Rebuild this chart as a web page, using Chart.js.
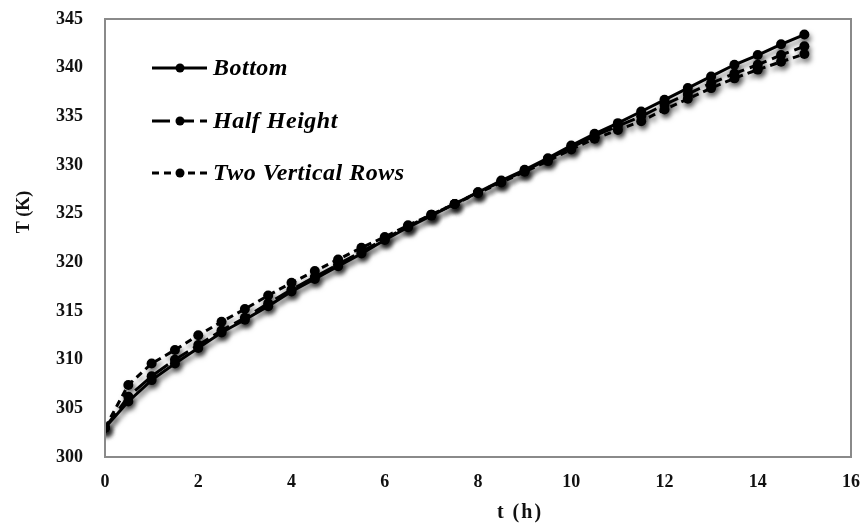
<!DOCTYPE html>
<html lang="en">
<head>
    <meta charset="UTF-8">
    <title>Temperature vs time</title>
    <script src="https://cdn.jsdelivr.net/npm/chart.js"></script>
    <style>
        body {
            margin: 0;
            background: #ffffff;
        }
        #wrap {
            width: 867px;
            height: 525px;
        }
    </style>
</head>
<body>
    <div id="wrap">
        <canvas id="tempChart" width="867" height="525"></canvas>
    </div>
    <script>
        // time in hours, sampled every half hour
        const hours = [0, 0.5, 1, 1.5, 2, 2.5, 3, 3.5, 4, 4.5, 5, 5.5, 6, 6.5, 7, 7.5,
                       8, 8.5, 9, 9.5, 10, 10.5, 11, 11.5, 12, 12.5, 13, 13.5, 14, 14.5, 15];

        // temperature (K) for each heater placement
        const bottomT = [303.0, 305.7, 307.9, 309.6, 311.2, 312.8, 314.1, 315.5, 317.0, 318.3,
                         319.6, 320.9, 322.3, 323.6, 324.8, 326.0, 327.2, 328.4, 329.5, 330.7,
                         332.0, 333.2, 334.3, 335.5, 336.7, 337.9, 339.1, 340.3, 341.3, 342.4, 343.4];
        const halfHeightT = [303.0, 306.2, 308.3, 310.0, 311.5, 313.0, 314.3, 315.8, 317.2, 318.5,
                             319.8, 321.1, 322.4, 323.7, 324.9, 326.0, 327.2, 328.3, 329.4, 330.6,
                             331.8, 333.0, 334.0, 335.0, 336.2, 337.3, 338.4, 339.4, 340.3, 341.3, 342.2];
        const twoRowsT = [303.0, 307.4, 309.6, 311.0, 312.5, 313.9, 315.2, 316.6, 317.9, 319.1,
                          320.3, 321.5, 322.6, 323.8, 324.9, 326.0, 327.1, 328.2, 329.3, 330.4,
                          331.6, 332.7, 333.6, 334.5, 335.7, 336.8, 337.9, 338.9, 339.8, 340.6, 341.4];

        const seriesNames = ['Bottom', 'Half Height', 'Two Vertical Rows'];
        const xTicks = [0, 2, 4, 6, 8, 10, 12, 14, 16];
        const yTicks = [300, 305, 310, 315, 320, 325, 330, 335, 340, 345];
        const xTitle = 't (h)';
        const yTitle = 'T (K)';

        const toPoints = vals => hours.map((h, i) => ({ x: h, y: vals[i] }));

        const serif = '"Liberation Serif", "Times New Roman", serif';

        function seriesStyle(label, vals, dash) {
            return {
                label: label,
                data: toPoints(vals),
                borderColor: '#000',
                backgroundColor: '#000',
                borderWidth: 3,
                borderDash: dash,
                pointRadius: 5,
                pointHoverRadius: 5,
                pointBorderWidth: 0,
                tension: 0,
                fill: false
            };
        }

        // drop shadow under the lines
        const shadowPlugin = {
            id: 'lineShadow',
            beforeDatasetsDraw(chart) {
                const ctx = chart.ctx;
                ctx.save();
                ctx.shadowColor = 'rgba(0,0,0,0.5)';
                ctx.shadowBlur = 5;
                ctx.shadowOffsetX = 2;
                ctx.shadowOffsetY = 4;
            },
            afterDatasetsDraw(chart) {
                chart.ctx.restore();
            }
        };

        // grey box round the plot area, plus the two axis titles
        const framePlugin = {
            id: 'frame',
            afterDraw(chart) {
                const { ctx, chartArea: a } = chart;
                ctx.save();
                ctx.strokeStyle = '#8a8a8a';
                ctx.lineWidth = 2;
                ctx.strokeRect(a.left, a.top, a.right - a.left, a.bottom - a.top);

                ctx.fillStyle = '#111';
                ctx.textAlign = 'center';
                ctx.textBaseline = 'middle';
                ctx.font = 'bold 20px ' + serif;
                ctx.letterSpacing = '2px';
                ctx.fillText(xTitle, 520, 513);

                ctx.letterSpacing = '0px';
                ctx.font = 'bold 18px ' + serif;
                ctx.translate(24, 212);
                ctx.rotate(-Math.PI / 2);
                ctx.fillText(yTitle, 0, 0);
                ctx.restore();
            }
        };

        // legend drawn inside the plot, top-left
        const legendPlugin = {
            id: 'insideLegend',
            afterDraw(chart) {
                const ctx = chart.ctx;
                const rows = [68, 121, 173];
                ctx.save();
                chart.data.datasets.forEach((ds, i) => {
                    const y = rows[i];
                    ctx.strokeStyle = '#000';
                    ctx.lineWidth = 3;
                    ctx.setLineDash(ds.borderDash);
                    ctx.beginPath();
                    ctx.moveTo(152, y);
                    ctx.lineTo(207, y);
                    ctx.stroke();
                    ctx.setLineDash([]);
                    ctx.fillStyle = '#000';
                    ctx.beginPath();
                    ctx.arc(180, y, 4.5, 0, Math.PI * 2);
                    ctx.fill();
                    ctx.font = 'italic bold 24px ' + serif;
                    ctx.letterSpacing = '0.5px';
                    ctx.textAlign = 'left';
                    ctx.textBaseline = 'middle';
                    ctx.fillText(ds.label, 213, y + 1);
                });
                ctx.restore();
            }
        };

        const ctx = document.getElementById('tempChart').getContext('2d');
        new Chart(ctx, {
            type: 'line',
            data: {
                datasets: [
                    seriesStyle(seriesNames[0], bottomT, []),
                    seriesStyle(seriesNames[1], halfHeightT, [18, 6]),
                    seriesStyle(seriesNames[2], twoRowsT, [7, 5])
                ]
            },
            options: {
                responsive: false,
                animation: false,
                layout: { padding: { top: 19, right: 16, left: 0, bottom: 0 } },
                plugins: {
                    legend: { display: false },
                    tooltip: { enabled: false }
                },
                scales: {
                    x: {
                        type: 'linear',
                        min: 0,
                        max: 16,
                        afterBuildTicks: s => { s.ticks = xTicks.map(v => ({ value: v })); },
                        afterFit: s => {
                            s.height = 68;
                            s.paddingLeft = 0;
                            s.paddingRight = 0;
                        },
                        grid: { display: false, drawTicks: false },
                        border: { display: false },
                        ticks: {
                            padding: 15,
                            color: '#111',
                            font: { family: serif, size: 18, weight: 'bold' }
                        }
                    },
                    y: {
                        min: 300,
                        max: 345,
                        afterBuildTicks: s => { s.ticks = yTicks.map(v => ({ value: v })); },
                        afterFit: s => {
                            s.width = 105;
                            s.paddingTop = 0;
                            s.paddingBottom = 0;
                        },
                        grid: { display: false, drawTicks: false },
                        border: { display: false },
                        ticks: {
                            padding: 22,
                            color: '#111',
                            font: { family: serif, size: 18, weight: 'bold' }
                        }
                    }
                }
            },
            plugins: [shadowPlugin, framePlugin, legendPlugin]
        });
    </script>
</body>
</html>
